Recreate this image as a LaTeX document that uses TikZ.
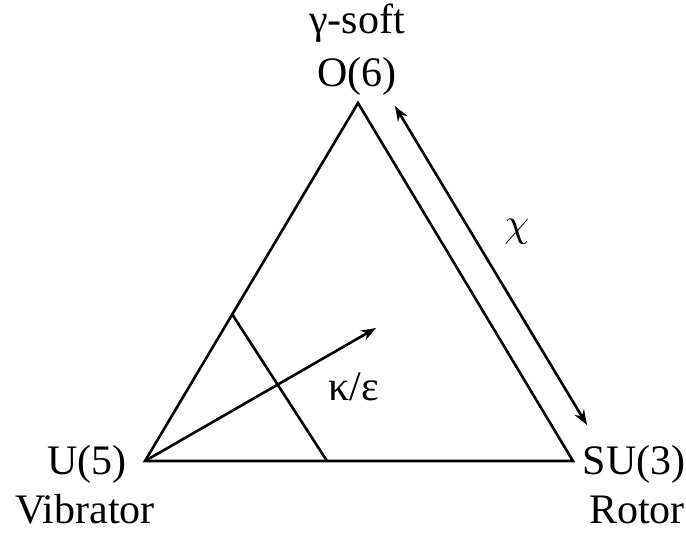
\documentclass[tikz,border=0pt]{standalone}
\usepackage{fontspec}
\setmainfont{Liberation Serif}
\usetikzlibrary{arrows.meta}

\tikzset{
  lbl/.style={anchor=base,inner sep=0pt,font=\fontsize{42}{50}\selectfont},
  edge/.style={line width=2.6pt,line join=miter},
  tip/.style={-{Stealth[length=15pt,width=11pt]}}
}

\begin{document}
\begin{tikzpicture}[x=1pt,y=-1pt]
\useasboundingbox (0,0) rectangle (686,533);
% corners of the triangle
\coordinate (u5) at (145,461);
\coordinate (o6) at (358,103);
\coordinate (su3) at (573,461);
\draw[edge] (u5)--(o6)--(su3)--cycle;
% cut line and kappa/epsilon arrow
\coordinate (cutA) at (232,314);
\coordinate (cutB) at (327,461);
\draw[edge] (cutA)--(cutB);
\coordinate (kend) at (376,328);
\draw[edge,tip] (u5)--(kend);
% chi arrow along the right side
\coordinate (chiA) at (395,106);
\coordinate (chiB) at (587,425);
\draw[edge,{Stealth[length=15pt,width=11pt]}-{Stealth[length=15pt,width=11pt]}] (chiA)--(chiB);
% labels
\node[lbl] (soft) at (357,33) {γ-soft};
\node[lbl] (o6lbl) at (357,86) {O(6)};
\node[lbl] (u5lbl) at (87,474) {U(5)};
\node[lbl] (vib) at (85,523) {Vibrator};
\node[lbl] (su3lbl) at (634,474) {SU(3)};
\node[lbl] (rot) at (637,523) {Rotor};
\node[anchor=base,inner sep=0pt,scale=4] (chi) at (517,236) {$\chi$};
\node[lbl] (kap) at (354,400) {κ/ε};
\end{tikzpicture}
\end{document}
